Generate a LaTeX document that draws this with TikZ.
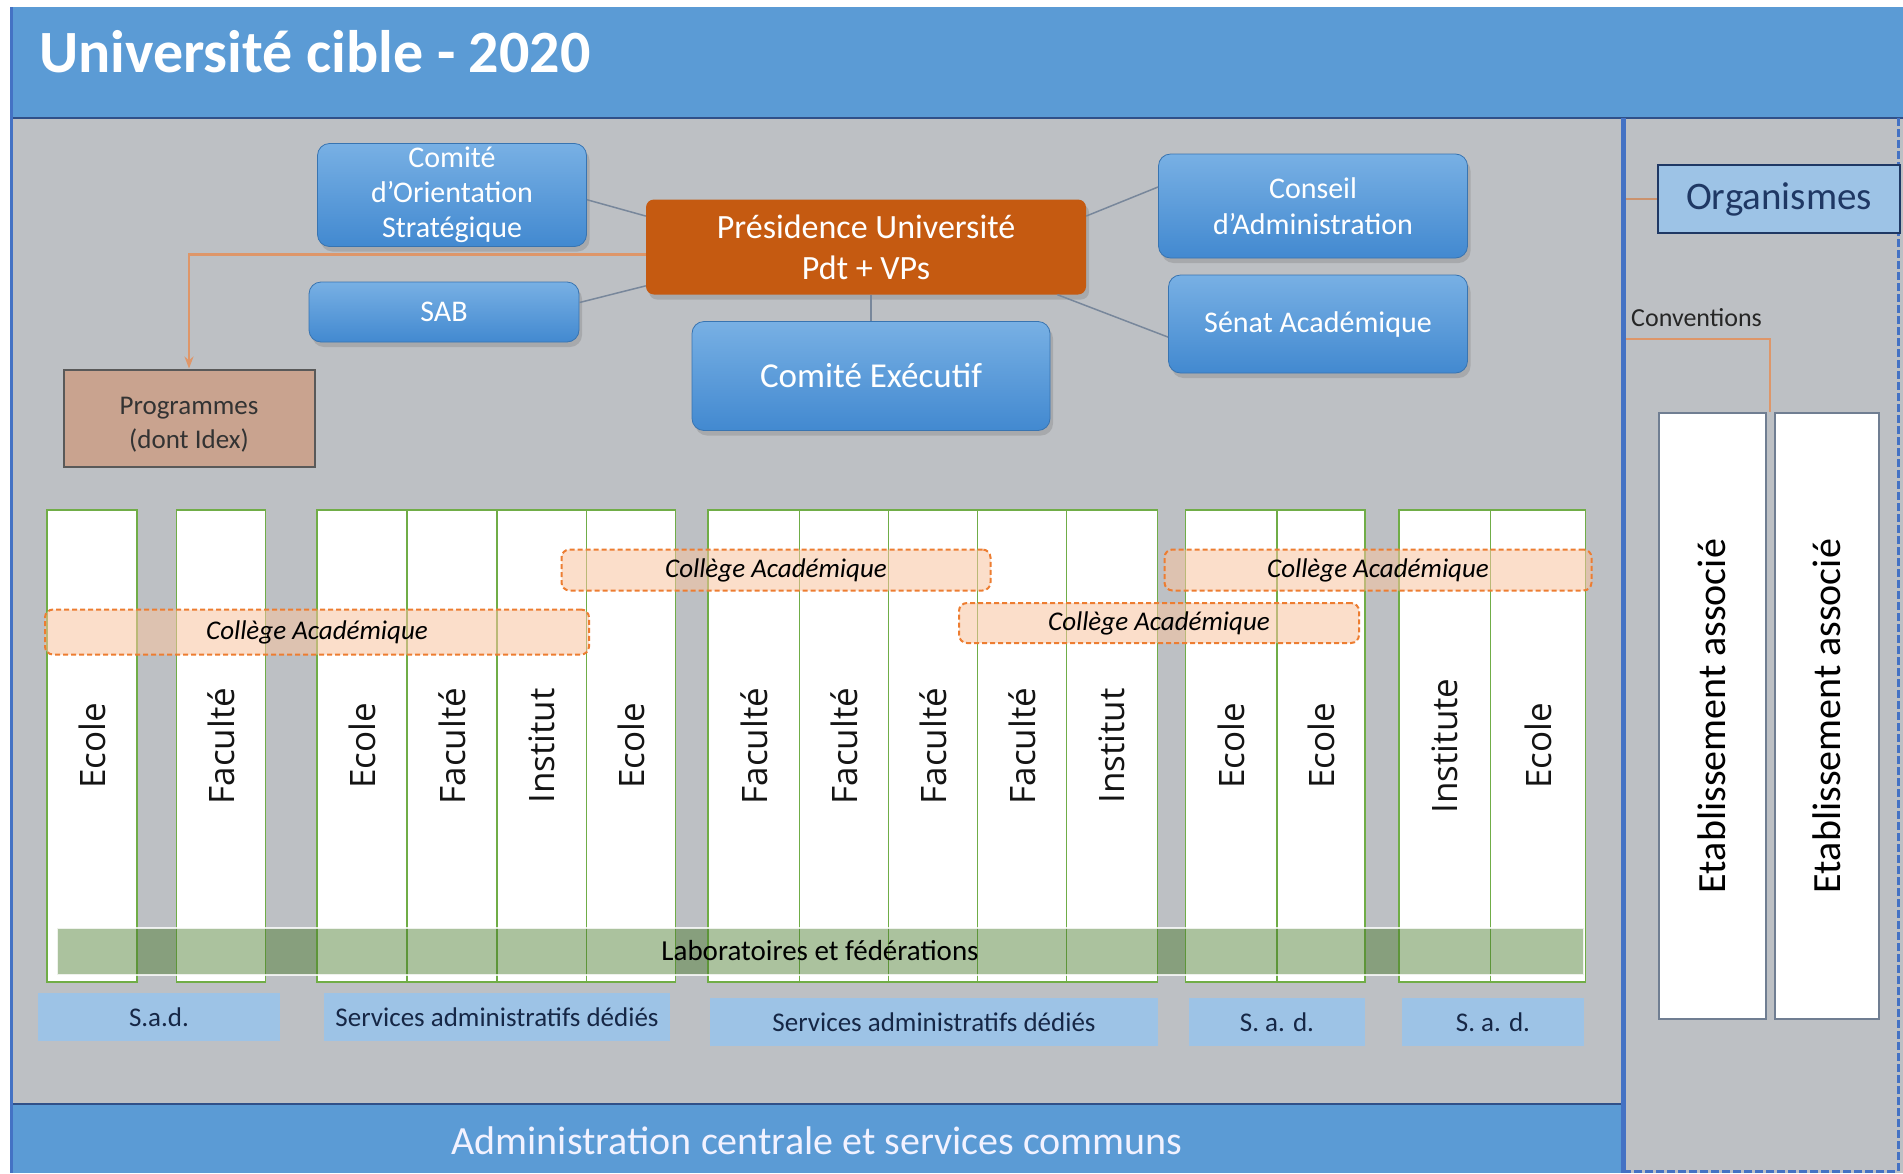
\documentclass[tikz,border=0pt]{standalone}
\usepackage{fontspec}
\setmainfont{Carlito}
\newfontfamily\colfont{Open Sans}
\usetikzlibrary{arrows.meta,positioning,calc,shadows}

\definecolor{hdrblue}{RGB}{91,155,213}
\definecolor{lineblue}{RGB}{68,114,196}
\definecolor{bggray}{RGB}{189,192,196}
\definecolor{boxtop}{RGB}{120,176,228}
\definecolor{boxbot}{RGB}{66,137,208}
\definecolor{presorange}{RGB}{197,90,17}
\definecolor{progtan}{RGB}{201,163,143}
\definecolor{linkgray}{RGB}{120,135,155}
\definecolor{colgreen}{RGB}{112,173,71}
\definecolor{collpeach}{RGB}{248,196,160}
\definecolor{colldash}{RGB}{237,125,49}
\definecolor{labgreen}{RGB}{70,120,40}
\definecolor{sadblue}{RGB}{157,195,230}
\definecolor{navy}{RGB}{31,56,100}
\definecolor{convorange}{RGB}{222,150,105}
\definecolor{etabedge}{RGB}{112,126,146}

\tikzset{
  bluebox/.style={rounded corners=12pt, top color=boxtop, bottom color=boxbot,
    draw=boxbot!85!black, line width=0.8pt, text=white, align=center, inner sep=1pt,
    font=\fontsize{30}{35}\selectfont,
    drop shadow={shadow xshift=3pt, shadow yshift=-5pt, opacity=0.35}},
  presbox/.style={rounded corners=8pt, fill=presorange, text=white, align=center,
    font=\fontsize{34}{41}\selectfont,
    drop shadow={shadow xshift=3pt, shadow yshift=-5pt, opacity=0.35}},
  link/.style={linkgray, line width=1.5pt},
  colbox/.style={draw=colgreen, line width=1.5pt, fill=white, rotate=90,
    minimum width=472pt, inner sep=0pt, text=black!92,
    font=\colfont\fontsize{35}{40}\selectfont},
  college/.style={draw=colldash, dash pattern=on 5pt off 3pt, line width=2pt,
    fill=collpeach, fill opacity=0.55, text opacity=1, rounded corners=8pt,
    font=\itshape\fontsize{27}{32}\selectfont},
  sad/.style={fill=sadblue, minimum height=48pt, text=navy!70!black,
    font=\fontsize{27}{32}\selectfont},
  etab/.style={draw=etabedge, line width=2pt, fill=white, rotate=90,
    minimum width=606pt, font=\fontsize{40}{48}\selectfont, text=black}
}

\begin{document}
\begin{tikzpicture}[x={(1pt,0)}, y={(0,-1pt)}]
    \useasboundingbox (0,0) rectangle (1903,1173);

    % Frame and header
    \fill[bggray] (11,118) rectangle (1903,1173);
    \fill[hdrblue] (11,7) rectangle (1903,118);
    \draw[lineblue!70!black, line width=2pt] (11,118) -- (1903,118);
    \node[anchor=base west, inner sep=0pt, text=white, font=\bfseries\fontsize{60}{72}\selectfont] (title) at (39,72) {Université cible - 2020};

    % Footer
    \fill[hdrblue] (11,1104) rectangle (1623,1173);
    \draw[lineblue!70!black, line width=2pt] (11,1104) -- (1623,1104);
    \node[text=white!95!blue, font=\fontsize{40}{48}\selectfont] (admin) at (817,1141) {Administration centrale et services communs};
    \draw[lineblue, line width=3pt] (11,7) -- (11,1173);

    % Right panel borders
    \draw[lineblue, line width=5pt] (1623,118) -- (1623,1173);
    \draw[lineblue, line width=3pt, dash pattern=on 8pt off 3pt] (1898,118) -- (1898,1171) -- (1626,1171);

    % Governance
    \node[bluebox, minimum width=269pt, minimum height=103pt] (cos) at (452,195) {Comité\\d’Orientation\\Stratégique};
    \node[bluebox, minimum width=270pt, minimum height=60pt] (sab) at (444,312) {SAB};
    \node[presbox, minimum width=440pt, minimum height=95pt] (pres) at (866,247) {Présidence Université\\Pdt + VPs};
    \node[bluebox, minimum width=358pt, minimum height=109pt, font=\fontsize{35}{42}\selectfont] (cex) at (871,376) {Comité Exécutif};
    \node[bluebox, minimum width=309pt, minimum height=104pt, font=\fontsize{30}{36}\selectfont] (ca) at (1313,206) {Conseil\\d’Administration};
    \node[bluebox, minimum width=299pt, minimum height=98pt] (sen) at (1318,324) {Sénat Académique};
    \node[draw=black!65, line width=2pt, fill=progtan, minimum width=251pt, minimum height=97pt, align=center, text=black!80, text height=64pt, font=\fontsize{27}{34}\selectfont] (prog) at (189,418) {Programmes\\(dont Idex)};

    \draw[link] (cos.-2) -- (pres.172);
    \draw[link] (sab.4) -- (pres.190);
    \draw[link] (pres.8) -- (ca.173);
    \draw[link] (pres.-14) -- (sen.185);
    \draw[link] (pres.south -| cex.north) -- (cex.north);
    \draw[convorange, line width=2.5pt, -{Stealth[length=12pt,width=9pt]}] (pres.182) -| (prog.north);

    % Schools, faculties, institutes
    \node[colbox, minimum height=90pt] (c1) at (92,746) {Ecole};
    \node[colbox, minimum height=89pt] (c2) at (221,746) {Faculté};
    \node[colbox, minimum height=90pt] (c3) at (362,746) {Ecole};
    \node[colbox, minimum height=90pt] (c4) at (452,746) {Faculté};
    \node[colbox, minimum height=90pt] (c5) at (542,746) {Institut};
    \node[colbox, minimum height=89pt] (c6) at (631,746) {Ecole};
    \node[colbox, minimum height=92pt] (c7) at (754,746) {Faculté};
    \node[colbox, minimum height=89pt] (c8) at (844,746) {Faculté};
    \node[colbox, minimum height=89pt] (c9) at (933,746) {Faculté};
    \node[colbox, minimum height=89pt] (c10) at (1022,746) {Faculté};
    \node[colbox, minimum height=91pt] (c11) at (1112,746) {Institut};
    \node[colbox, minimum height=91pt] (c12) at (1231,746) {Ecole};
    \node[colbox, minimum height=88pt] (c13) at (1321,746) {Ecole};
    \node[colbox, minimum height=92pt] (c14) at (1445,746) {Institute};
    \node[colbox, minimum height=95pt] (c15) at (1538,746) {Ecole};

    % Academic colleges
    \node[college, minimum width=429pt, minimum height=41pt] (col1) at (776,570) {Collège Académique};
    \node[college, minimum width=427pt, minimum height=41pt] (col2) at (1378,570) {Collège Académique};
    \node[college, minimum width=400pt, minimum height=40pt] (col3) at (1159,623) {Collège Académique};
    \node[college, minimum width=544pt, minimum height=45pt] (col4) at (317,632) {Collège Académique};

    % Laboratories band
    \node[fill=labgreen, fill opacity=0.45, text opacity=1, draw=white, draw opacity=0.8, line width=2pt, minimum width=1527pt, minimum height=47pt, font=\fontsize{29}{34}\selectfont] (labo) at (820,951) {Laboratoires et fédérations};

    % Dedicated services
    \node[sad, minimum width=242pt] (sad1) at (159,1017) {S.a.d.};
    \node[sad, minimum width=346pt] (sad2) at (497,1017) {Services administratifs dédiés};
    \node[sad, minimum width=448pt] (sad3) at (934,1022) {Services administratifs dédiés};
    \node[sad, minimum width=176pt] (sad4) at (1277,1022) {S. a. d.};
    \node[sad, minimum width=182pt] (sad5) at (1493,1022) {S. a. d.};

    % Organisms and associated institutions
    \node[draw=navy, line width=2.5pt, fill=sadblue, minimum width=242pt, minimum height=68pt, text=navy, font=\fontsize{39}{46}\selectfont] (org) at (1779,199) {Organismes};
    \coordinate (orgfoot) at (1626,199);
    \draw[convorange!80!gray, line width=1.5pt] (orgfoot) -- (org.west);

    \node[anchor=west, inner sep=0pt, text=black!85, font=\fontsize{26}{31}\selectfont] (conv) at (1631,318) {Conventions};
    \node[etab, minimum height=107pt] (eta1) at (1712,716) {Etablissement associé};
    \node[etab, minimum height=104pt] (eta2) at (1827,716) {Etablissement associé};
    \coordinate (convfoot) at (1626,339);
    \draw[convorange, line width=2pt] (convfoot) -| ($(eta1.south east)!0.5!(eta2.north east)$);
\end{tikzpicture}
\end{document}
